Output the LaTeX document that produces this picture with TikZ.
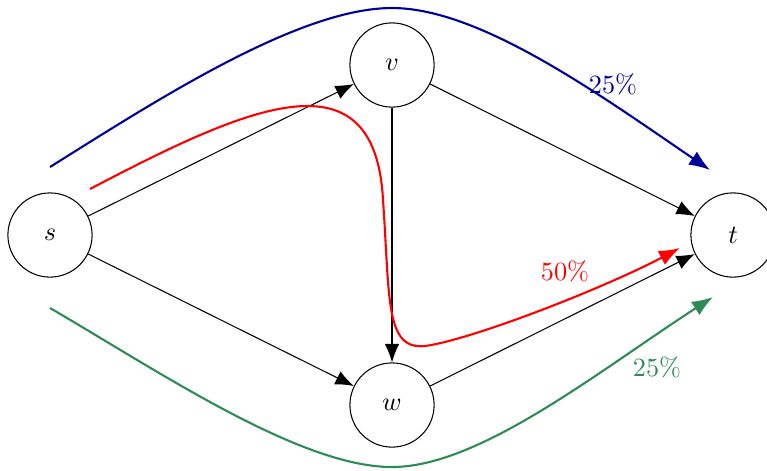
\documentclass[tikz,border=0pt]{standalone}
\usetikzlibrary{arrows.meta}
\definecolor{flowblue}{RGB}{0,0,150}
\definecolor{flowgreen}{RGB}{46,139,87}
\definecolor{flowred}{RGB}{255,0,0}
\tikzset{
  vertex/.style={draw,circle,minimum size=32pt,inner sep=0pt},
  edge/.style={-{Latex[length=7pt,width=5.5pt]}},
  flow/.style={line width=0.8pt,-{Latex[length=8pt,width=6pt]}}
}

\begin{document}
\begin{tikzpicture}[x=0.38pt,y=0.38pt,yscale=-1,xscale=1]
\useasboundingbox (0,0) rectangle (767,470);

% Vertices
\node[vertex] (s) at (50,235) {$s$};
\node[vertex] (v) at (392,65) {$v$};
\node[vertex] (w) at (392,405) {$w$};
\node[vertex] (t) at (733,235) {$t$};

% Edges
\draw[edge] (s) -- (v);
\draw[edge] (s) -- (w);
\draw[edge] (v) -- (t);
\draw[edge] (w) -- (t);
\draw[edge] (v) -- (w);

% Flow ends
\coordinate (b0) at (50,167);
\coordinate (b1) at (710,170);
\coordinate (r0) at (90,189);
\coordinate (r1) at (680,248);
\coordinate (g0) at (50,308);
\coordinate (g1) at (713,297);

% Blue flow
\draw[flow,color=flowblue] (b0) .. controls (160,98) and (300,8) .. (392,8) .. controls (480,8) and (600,95) .. (b1);
% Red flow
\draw[flow,color=flowred] (r0) .. controls (250,105) and (375,50) .. (383,200) .. controls (390,300) and (385,350) .. (425,346) .. controls (470,340) and (600,290) .. (r1);
% Green flow
\draw[flow,color=flowgreen] (g0) .. controls (160,372) and (300,467) .. (392,467) .. controls (480,467) and (600,370) .. (g1);

% Text Node
\node[text=flowblue] (lb) at (613,84) {25\%};
% Text Node
\node[text=flowred] (lr) at (565,271) {50\%};
% Text Node
\node[text=flowgreen] (lg) at (657,367) {25\%};
\end{tikzpicture}
\end{document}
